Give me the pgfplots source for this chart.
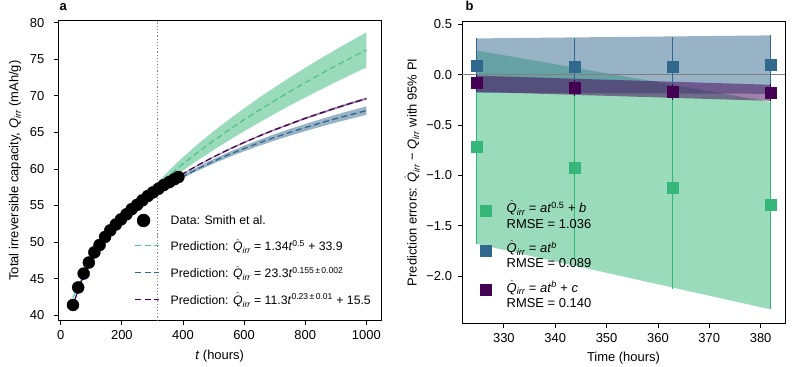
\documentclass[border=0pt]{standalone}
\usepackage{fontspec}
\setmainfont{Liberation Sans}
\usepackage{amsmath}
\usepackage{pgfplots}
\pgfplotsset{compat=1.18}
\definecolor{vgreen}{HTML}{35B779}
\definecolor{vblue}{HTML}{31688E}
\definecolor{vpurple}{HTML}{440154}
\newcommand{\Qh}{$\hat{\text{\itshape Q}}_{\text{\itshape irr}}$}
\newcommand{\Qn}{\textit{Q}$_{\text{\itshape irr}}$}
\newcommand{\fs}{\fontsize{13}{15.5}\selectfont}
\newcommand{\fl}{\fontsize{12.3}{14.6}\selectfont}
\pgfplotsset{
  myaxis/.style={
    scale only axis, tick align=outside, xtick pos=bottom, ytick pos=left,
    axis line style={black, line width=0.8pt},
    tick style={black, line width=0.8pt}, major tick length=4.5bp,
    /pgf/number format/assume math mode=true,
    /pgf/number format/1000 sep={},
    tick label style={font=\fs},
    xticklabel style={yshift=-2bp},
    label style={font=\fs},
    xlabel shift=3bp,
    legend cell align=left,
  },
  dashleg/.style={legend image code/.code={\draw[##1] (0bp,0bp) -- (24bp,0bp);}},
}
\begin{document}
\begin{tikzpicture}
\useasboundingbox (0,0) rectangle (800bp,-367bp);
\node[font=\fs\bfseries, anchor=base west] at (56bp,-10bp) {a};
\node[font=\fs\bfseries, anchor=base west] at (462bp,-10bp) {b};
% ---------------- panel a ----------------
\begin{axis}[myaxis, at={(58.3bp,-320.7bp)}, anchor=south west,
  width=322.7bp, height=300.2bp,
  xmin=-8, xmax=1048, ymin=39.25, ymax=80.3,
  xtick={0,200,400,600,800,1000}, ytick={40,45,...,80},
  yticklabel style={xshift=-6bp},
  ylabel shift=2bp,
  xlabel={\textit{t} (hours)},
  ylabel={Total irreversible capacity, \Qn\ (mAh/g)},
  legend style={draw=none, fill=none, font=\fl, at={(0.226,0.365)}, anchor=north west, row sep=9.5bp, column sep=9bp}]
% prediction bands
\addplot[draw=none, fill=vgreen, fill opacity=0.5, forget plot] coordinates {
 (316,58.08) (350,59.61) (400,61.61) (450,63.44) (500,65.14) (550,66.76) (600,68.29) (650,69.76)
 (700,71.16) (750,72.52) (800,73.83) (850,75.10) (900,76.32) (950,77.51) (1000,78.67)
 (1000,73.87) (950,72.89) (900,71.88) (850,70.84) (800,69.77) (750,68.68) (700,67.54) (650,66.36)
 (600,65.15) (550,63.90) (500,62.58) (450,61.22) (400,59.79) (350,58.33) (316,57.36)} -- cycle;
\addplot[draw=none, fill=vblue, fill opacity=0.5, forget plot] coordinates {
 (316,56.95) (350,57.93) (400,59.20) (450,60.33) (500,61.36) (550,62.31) (600,63.18) (650,63.99)
 (700,64.76) (750,65.48) (800,66.15) (850,66.79) (900,67.42) (950,68.00) (1000,68.56)
 (1000,67.40) (950,66.88) (900,66.34) (850,65.77) (800,65.17) (750,64.54) (700,63.88) (650,63.17)
 (600,62.42) (550,61.61) (500,60.74) (450,59.79) (400,58.76) (350,57.61) (316,56.77)} -- cycle;
\addplot[draw=none, fill=vpurple, fill opacity=0.5, forget plot] coordinates {
 (316,57.05) (350,58.05) (400,59.40) (450,60.61) (500,61.72) (550,62.76) (600,63.72) (650,64.63)
 (700,65.47) (750,66.27) (800,67.05) (850,67.76) (900,68.47) (950,69.13) (1000,69.77)
 (1000,69.47) (950,68.85) (900,68.19) (850,67.50) (800,66.79) (750,66.03) (700,65.25) (650,64.41)
 (600,63.52) (550,62.58) (500,61.56) (450,60.47) (400,59.28) (350,57.97) (316,57.01)} -- cycle;
% split line
\addplot[gray, dotted, line width=1.2bp, forget plot] coordinates {(316,39.25) (316,80.3)};
% dashed predictions
\addplot[vgreen!85!white, line width=1.3bp, dash pattern=on 6bp off 3.5bp, forget plot] coordinates {
 (316,57.72) (350,58.97) (400,60.70) (450,62.33) (500,63.86) (550,65.33) (600,66.72) (650,68.06)
 (700,69.35) (750,70.60) (800,71.80) (850,72.97) (900,74.10) (950,75.20) (1000,76.27)};
\addplot[vblue, line width=1.3bp, dash pattern=on 6bp off 3.5bp, forget plot] coordinates {
 (316,56.86) (350,57.77) (400,58.98) (450,60.06) (500,61.05) (550,61.96) (600,62.80) (650,63.58)
 (700,64.32) (750,65.01) (800,65.66) (850,66.28) (900,66.88) (950,67.44) (1000,67.98)};
\addplot[vpurple, line width=1.3bp, dash pattern=on 6bp off 3.5bp, forget plot] coordinates {
 (316,57.03) (350,58.01) (400,59.34) (450,60.54) (500,61.64) (550,62.67) (600,63.62) (650,64.52)
 (700,65.36) (750,66.15) (800,66.92) (850,67.63) (900,68.33) (950,68.99) (1000,69.62)};
% data
\addplot[only marks, mark=*, mark size=6bp, black, forget plot] coordinates {
 (40,41.4) (57,43.8) (75,45.7) (92,47.2) (110,48.6) (127,49.6) (145,50.7) (162,51.6) (180,52.4)
 (197,53.1) (215,53.8) (232,54.5) (250,55.1) (267,55.7) (285,56.3) (302,56.8) (320,57.3)
 (337,57.8) (355,58.2) (372,58.6) (385,58.9)};
% fits over the training data
\addplot[vgreen!60!cyan, line width=1bp, forget plot] coordinates {
 (40,42.38) (60,44.28) (80,45.89) (100,47.30) (130,49.18) (160,50.85) (200,52.85) (250,55.09) (316,57.72)};
\addplot[vblue, line width=1bp, forget plot] coordinates {
 (40,41.28) (60,43.95) (80,45.96) (100,47.57) (130,49.55) (160,51.17) (200,52.97) (250,54.83) (316,56.86)};
\addplot[vpurple, line width=1bp, forget plot] coordinates {
 (40,41.31) (60,43.84) (80,45.77) (100,47.37) (130,49.35) (160,51.01) (200,52.88) (250,54.84) (316,57.03)};
% legend
\addlegendimage{only marks, mark=*, mark size=6.5bp, black}
\addlegendentry{Data: Smith et al.}
\addlegendimage{dashleg, vgreen!85!white, line width=1.3bp, dash pattern=on 6bp off 3.5bp}
\addlegendentry{Prediction: \Qh\ = 1.34\textit{t}\textsuperscript{0.5} + 33.9}
\addlegendimage{dashleg, vblue, line width=1.3bp, dash pattern=on 6bp off 3.5bp}
\addlegendentry{Prediction: \Qh\ = 23.3\textit{t}\textsuperscript{0.155\,±\,0.002}}
\addlegendimage{dashleg, vpurple, line width=1.3bp, dash pattern=on 6bp off 3.5bp}
\addlegendentry{Prediction: \Qh\ = 11.3\textit{t}\textsuperscript{0.23\,±\,0.01} + 15.5}
\end{axis}
% ---------------- panel b ----------------
\begin{axis}[myaxis, at={(462bp,-323bp)}, anchor=south west,
  width=323bp, height=301.3bp,
  xmin=321.85, xmax=384.75, ymin=-2.466, ymax=0.526,
  xtick={330,340,350,360,370,380}, ytick={-2,-1.5,-1,-0.5,0,0.5},
  yticklabels={−2.0,−1.5,−1.0,−0.5,0.0,0.5},
  yticklabel style={xshift=-2bp},
  xlabel={Time (hours)},
  ylabel={Prediction errors: \Qh\ − \Qn\ with 95\% PI},
  legend style={draw=none, fill=none, font=\fs, at={(0.045,0.42)}, anchor=north west, row sep=15bp, column sep=14bp}]
\addplot[draw=none, fill=vgreen, fill opacity=0.5, forget plot] coordinates {
 (324.7,0.24) (381.9,-0.27) (381.9,-2.33) (324.7,-1.68)} -- cycle;
\addplot[draw=none, fill=vblue, fill opacity=0.5, forget plot] coordinates {
 (324.7,0.36) (381.9,0.39) (381.9,-0.19) (324.7,-0.18)} -- cycle;
\addplot[draw=none, fill=vpurple, fill opacity=0.5, forget plot] coordinates {
 (324.7,-0.01) (381.9,-0.10) (381.9,-0.26) (324.7,-0.17)} -- cycle;
\addplot[gray, line width=1.3bp, forget plot] coordinates {(321.85,0) (384.75,0)};
% error bars
\addplot[only marks, mark=none, forget plot, error bars/.cd, y dir=both, y explicit,
  error mark=none, error bar style={vgreen, line width=1.3bp}] coordinates {
 (324.7,-0.72) +- (0,0.96) (343.8,-0.92) +- (0,0.90) (362.9,-1.12) +- (0,1.01) (381.9,-1.29) +- (0,1.04)};
\addplot[only marks, mark=none, forget plot, error bars/.cd, y dir=both, y explicit,
  error mark=none, error bar style={vblue, line width=1.3bp}] coordinates {
 (324.7,0.09) +- (0,0.27) (343.8,0.08) +- (0,0.28) (362.9,0.08) +- (0,0.29) (381.9,0.10) +- (0,0.29)};
\addplot[only marks, mark=none, forget plot, error bars/.cd, y dir=both, y explicit,
  error mark=none, error bar style={vpurple, line width=1.3bp}] coordinates {
 (324.7,-0.08) +- (0,0.08) (343.8,-0.13) +- (0,0.08) (362.9,-0.17) +- (0,0.08) (381.9,-0.18) +- (0,0.085)};
% markers
\addplot[only marks, mark=square*, mark size=5.5bp, vgreen, forget plot] coordinates {
 (324.7,-0.72) (343.8,-0.92) (362.9,-1.12) (381.9,-1.29)};
\addplot[only marks, mark=square*, mark size=5.5bp, vblue, forget plot] coordinates {
 (324.7,0.09) (343.8,0.08) (362.9,0.08) (381.9,0.10)};
\addplot[only marks, mark=square*, mark size=5.5bp, vpurple, forget plot] coordinates {
 (324.7,-0.08) (343.8,-0.13) (362.9,-0.17) (381.9,-0.18)};
% legend
\addlegendimage{only marks, mark=square*, mark size=5.5bp, vgreen}
\addlegendentry{\begin{tabular}{@{}l@{}}\Qh\ = \textit{at}\textsuperscript{0.5} + \textit{b}\\RMSE = 1.036\end{tabular}}
\addlegendimage{only marks, mark=square*, mark size=5.5bp, vblue}
\addlegendentry{\begin{tabular}{@{}l@{}}\Qh\ = \textit{at}\textsuperscript{\textit{b}}\\RMSE = 0.089\end{tabular}}
\addlegendimage{only marks, mark=square*, mark size=5.5bp, vpurple}
\addlegendentry{\begin{tabular}{@{}l@{}}\Qh\ = \textit{at}\textsuperscript{\textit{b}} + \textit{c}\\RMSE = 0.140\end{tabular}}
\end{axis}
\end{tikzpicture}
\end{document}
